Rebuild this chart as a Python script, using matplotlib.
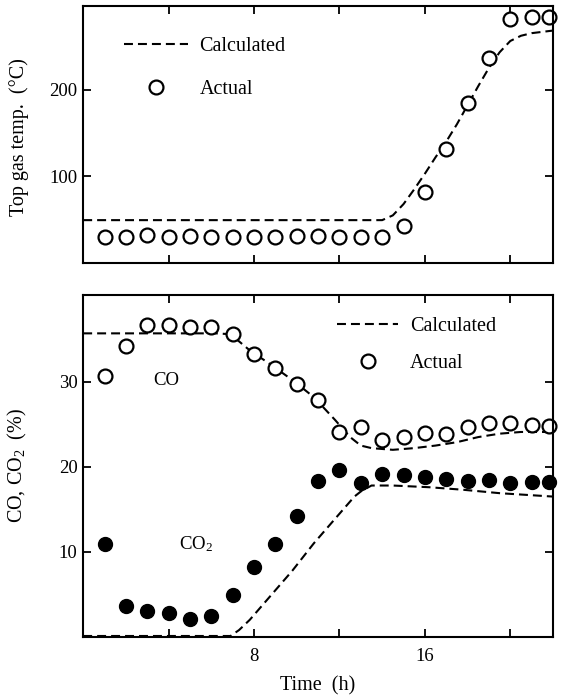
import numpy as np
import matplotlib.pyplot as plt

plt.rcParams['font.family'] = ['Liberation Serif', 'DejaVu Serif']
plt.rcParams['mathtext.fontset'] = 'custom'
plt.rcParams['mathtext.rm'] = 'Liberation Serif'
plt.rcParams['mathtext.default'] = 'regular'

# top panel: top gas temperature (deg C)
temp_hours = [1, 2, 3, 4, 5, 6, 7, 8, 9, 10, 11, 12, 13, 14, 15, 16, 17, 18, 19, 20, 21, 21.8]
temp_actual = [30.6, 30.6, 32.6, 30.6, 31.4, 30.6, 30.3, 30.3, 29.9, 31.4, 31.0, 30.3, 29.9, 30.6,
               42.9, 82.4, 131, 184.7, 236, 281.6, 284, 284]
temp_calc_hours = [0, 14.0, 14.5, 15.0, 15.5, 16.0, 16.5, 17.0, 17.5, 18.0, 18.5, 19.0, 19.5, 20.0, 20.5, 21.0, 22.0]
temp_calc = [49.5, 49.5, 55, 68, 85, 103, 122, 140, 160, 182, 204, 225, 243, 256, 262, 265, 268]

# bottom panel: CO and CO2 (%)
gas_hours = [1, 2, 3, 4, 5, 6, 7, 8, 9, 10, 11, 12, 13, 14, 15, 16, 17, 18, 19, 20, 21, 21.8]
co_actual = [30.7, 34.2, 36.7, 36.7, 36.4, 36.5, 35.6, 33.3, 31.6, 29.7, 27.9, 24.1, 24.7, 23.1,
             23.5, 24.0, 23.9, 24.7, 25.2, 25.1, 24.9, 24.8]
co2_actual = [10.9, 3.6, 3.0, 2.8, 2.1, 2.5, 4.9, 8.2, 10.9, 14.2, 18.3, 19.6, 18.1, 19.1,
              19.0, 18.8, 18.6, 18.3, 18.4, 18.1, 18.2, 18.2]
co_calc_hours = [0, 6.2, 6.9, 7.8, 8.8, 9.8, 10.8, 11.8, 12.5, 13.0, 13.5, 14.5, 15.5, 16.5, 17.5, 18.5, 19.5, 20.5, 22.0]
co_calc = [35.7, 35.7, 35.6, 33.7, 32.0, 30.2, 28.2, 25.5, 23.5, 22.5, 22.2, 22.0, 22.2, 22.5, 22.9, 23.5, 23.9, 24.1, 24.1]
co2_calc_hours = [0, 6.9, 7.3, 7.8, 8.8, 9.8, 10.8, 11.8, 12.7, 13.0, 13.5, 14.5, 16.2, 17.8, 19.5, 22.0]
co2_calc = [0.1, 0.1, 0.8, 2.0, 4.9, 7.8, 11.0, 13.9, 16.5, 17.1, 17.8, 17.8, 17.6, 17.3, 16.9, 16.5]

fs = 13.5
lfs = 14.5
dash = (4.3, 2.4)

fig = plt.figure(figsize=(5.62, 6.96), dpi=100)
ax1 = fig.add_axes([0.148, 0.622, 0.836, 0.369])
ax2 = fig.add_axes([0.148, 0.085, 0.836, 0.491])

# top panel
ax1.plot(temp_calc_hours, temp_calc, color='black', lw=1.5, dashes=dash, label='Calculated')
ax1.plot(temp_hours, temp_actual, 'o', ms=10, mfc='white', mec='black', mew=1.6,
         clip_on=False, label='Actual')
ax1.set_xlim(0, 22)
ax1.set_ylim(0, 296)
ax1.set_yticks([100, 200])
ax1.set_xticks([4, 8, 12, 16, 20])
ax1.set_xticklabels([])
ax1.set_ylabel('Top gas temp.  (°C)', fontsize=lfs)
ax1.yaxis.set_label_coords(-0.115, 0.49)
ax1.legend(loc='upper left', bbox_to_anchor=(0.087, 0.88), frameon=False, fontsize=lfs,
           handlelength=3.2, handletextpad=0.55, labelspacing=1.2, borderpad=0, borderaxespad=0)

# bottom panel
ax2.plot(co_calc_hours, co_calc, color='black', lw=1.5, dashes=dash, label='Calculated')
ax2.plot(co2_calc_hours, co2_calc, color='black', lw=1.5, dashes=dash)
ax2.plot(gas_hours, co_actual, 'o', ms=10, mfc='white', mec='black', mew=1.6,
         clip_on=False, label='Actual')
ax2.plot(gas_hours, co2_actual, 'o', ms=10, mfc='black', mec='black', clip_on=False)
ax2.text(3.9, 30.2, 'CO', fontsize=fs, ha='center', va='center')
ax2.text(5.3, 10.9, 'CO$_2$', fontsize=fs, ha='center', va='center')
ax2.set_xlim(0, 22)
ax2.set_ylim(0, 40.2)
ax2.set_yticks([10, 20, 30])
ax2.set_xticks([4, 8, 12, 16, 20])
ax2.set_xticklabels(['', '8', '', '16', ''])
ax2.set_xlabel('Time  (h)', fontsize=lfs, labelpad=8)
ax2.set_ylabel('CO, CO$_2$  (%)', fontsize=lfs)
ax2.yaxis.set_label_coords(-0.115, 0.5)
ax2.legend(loc='upper left', bbox_to_anchor=(0.541, 0.935), frameon=False, fontsize=lfs,
           handlelength=3.0, handletextpad=0.6, labelspacing=0.85, borderpad=0, borderaxespad=0)

for ax in (ax1, ax2):
    for s in ax.spines.values():
        s.set_linewidth(1.5)
    ax.tick_params(direction='in', length=6, width=1.3, top=True, right=True, labelsize=fs)
    ax.tick_params(axis='y', pad=4)
    ax.tick_params(axis='x', pad=8)

fig.savefig('out.png', dpi=100)
